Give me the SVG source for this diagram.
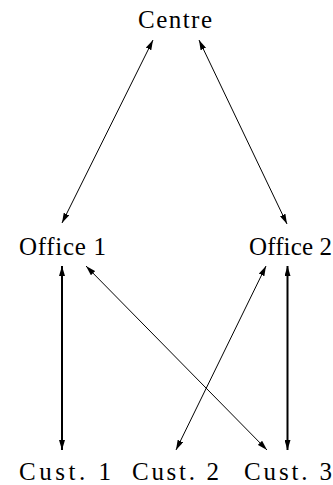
<svg xmlns="http://www.w3.org/2000/svg" width="333" height="485" viewBox="0 0 333 485">
<style>
  text { font-family: "Liberation Serif", "Times New Roman", serif; font-size: 25px; fill: #000; }
  .thin { stroke: #000; stroke-width: 1; fill: none; }
  .thick { stroke: #000; stroke-width: 2; fill: none; }
</style>
<defs>
  <marker id="ah" viewBox="0 0 10 6" refX="10" refY="3" markerWidth="10" markerHeight="6" markerUnits="userSpaceOnUse" orient="auto-start-reverse">
    <path d="M0,0 L10,3 L0,6 Z" fill="#000"/>
  </marker>
</defs>
<rect width="333" height="485" fill="#fff"/>
<g id="connectors">
  <line class="thin" x1="153" y1="40" x2="62" y2="223" marker-start="url(#ah)" marker-end="url(#ah)"/>
  <line class="thin" x1="199" y1="40" x2="287" y2="224" marker-start="url(#ah)" marker-end="url(#ah)"/>
  <line class="thick" x1="62" y1="266" x2="62" y2="450" marker-start="url(#ah)" marker-end="url(#ah)"/>
  <line class="thick" x1="287.5" y1="266" x2="287.5" y2="450" marker-start="url(#ah)" marker-end="url(#ah)"/>
  <line class="thin" x1="86" y1="266" x2="267" y2="450" marker-start="url(#ah)" marker-end="url(#ah)"/>
  <line class="thin" x1="266" y1="266" x2="176" y2="450" marker-start="url(#ah)" marker-end="url(#ah)"/>
</g>
<g id="centre"><text x="138" y="28" textLength="74" lengthAdjust="spacing">Centre</text></g>
<g id="office1"><text x="19" y="255" textLength="87" lengthAdjust="spacing">Office 1</text></g>
<g id="office2"><text x="249" y="255" textLength="83" lengthAdjust="spacing">Office 2</text></g>
<g id="cust1"><text x="19" y="480" textLength="92" lengthAdjust="spacing">Cust. 1</text></g>
<g id="cust2"><text x="132" y="480" textLength="87" lengthAdjust="spacing">Cust. 2</text></g>
<g id="cust3"><text x="244" y="480" textLength="88" lengthAdjust="spacing">Cust. 3</text></g>
</svg>
